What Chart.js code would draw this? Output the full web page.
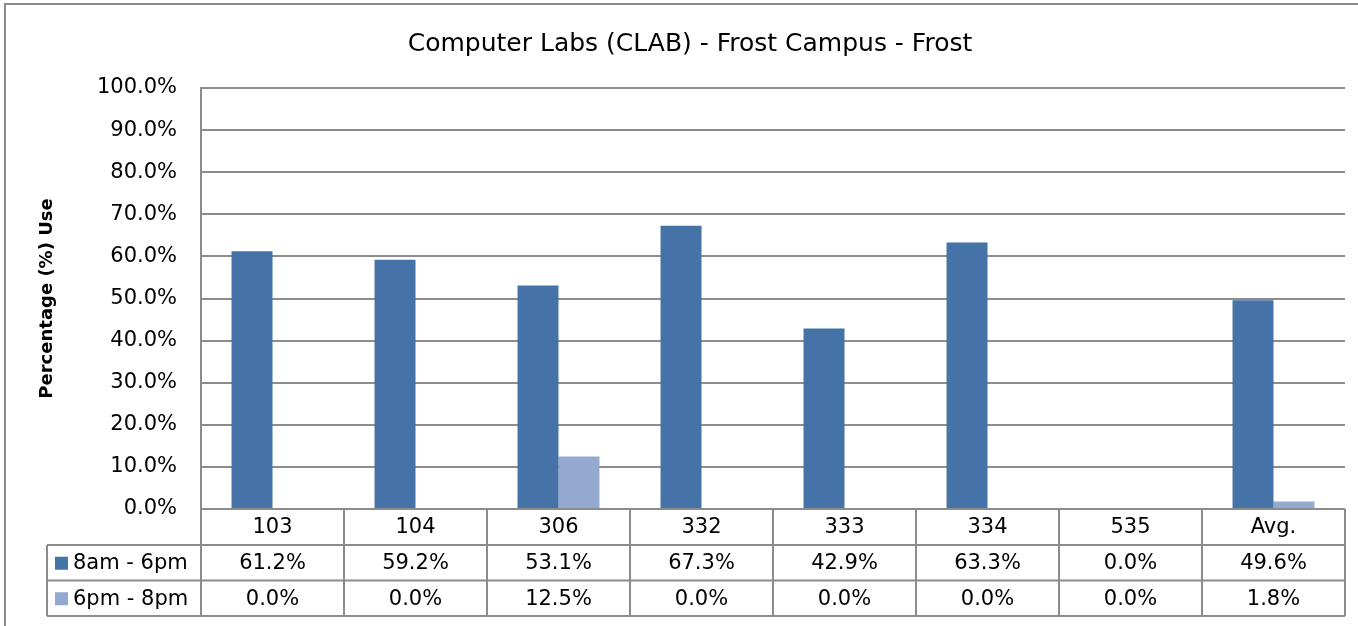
<!DOCTYPE html>
<html lang="en">
<head>
  <meta charset="UTF-8">
  <title>Computer Labs (CLAB) - Frost Campus - Frost</title>
  <script src="https://cdn.jsdelivr.net/npm/chart.js"></script>
  <style>
    body { margin: 0; padding: 0; background: #fff; }
    canvas { display: block; }
  </style>
</head>
<body>
  <canvas id="labChart" width="1358" height="626"></canvas>

  <script>
    // data
    const rooms = ['103', '104', '306', '332', '333', '334', '535', 'Avg.'];
    const dayUse = [61.2, 59.2, 53.1, 67.3, 42.9, 63.3, 0.0, 49.6];
    const eveningUse = [0.0, 0.0, 12.5, 0.0, 0.0, 0.0, 0.0, 1.8];
    const seriesNames = ['8am - 6pm', '6pm - 8pm'];
    const yTicks = [0, 10, 20, 30, 40, 50, 60, 70, 80, 90, 100];

    const FONT = '"DejaVu Sans", sans-serif';
    const GRID = '#8c8c8c';

    // outer frame (right/bottom edges fall off the picture)
    const framePlugin = {
      id: 'frame',
      beforeDraw(chart) {
        const ctx = chart.ctx;
        ctx.save();
        ctx.strokeStyle = '#8c8c8c';
        ctx.lineWidth = 2;
        ctx.strokeRect(5, 4, chart.width + 40, chart.height + 40);
        ctx.restore();
      }
    };

    // Excel-like data table under the plot
    const tablePlugin = {
      id: 'dataTable',
      afterDraw(chart) {
        const ctx = chart.ctx;
        const x = chart.scales.x;
        const area = chart.chartArea;
        const colW = x.width / rooms.length;
        const headTop = area.bottom;
        const row1 = headTop + 36;
        const row2 = row1 + 35.5;
        const bottom = row2 + 35.5;
        const legendLeft = 47;

        ctx.save();
        ctx.strokeStyle = GRID;
        ctx.lineWidth = 2;

        // horizontal rules
        [row1, row2, bottom].forEach(y => {
          ctx.beginPath();
          ctx.moveTo(legendLeft, y);
          ctx.lineTo(area.right, y);
          ctx.stroke();
        });

        // vertical rules
        for (let i = 0; i <= rooms.length; i++) {
          const vx = area.left + i * colW;
          ctx.beginPath();
          ctx.moveTo(vx, headTop);
          ctx.lineTo(vx, bottom);
          ctx.stroke();
        }
        ctx.beginPath();
        ctx.moveTo(legendLeft, row1);
        ctx.lineTo(legendLeft, bottom);
        ctx.stroke();

        ctx.fillStyle = '#000';
        ctx.font = '21px ' + FONT;
        ctx.textAlign = 'center';
        ctx.textBaseline = 'middle';

        rooms.forEach((r, i) => {
          const cx = x.getPixelForValue(i);
          ctx.fillText(r, cx, (headTop + row1) / 2 + 1);
        });

        const rows = [row1, row2];
        chart.data.datasets.forEach((ds, d) => {
          const midY = (rows[d] + rows[d] + 35.5) / 2 + 1;
          ds.data.forEach((v, i) => {
            ctx.textAlign = 'center';
            ctx.fillStyle = '#000';
            ctx.fillText(v.toFixed(1) + '%', x.getPixelForValue(i), midY);
          });
          // legend key + name
          ctx.fillStyle = ds.backgroundColor;
          ctx.fillRect(55, midY - 7, 13, 13);
          ctx.fillStyle = '#000';
          ctx.textAlign = 'left';
          ctx.fillText(ds.label, 73, midY);
        });

        ctx.restore();
      }
    };

    new Chart(document.getElementById('labChart'), {
      type: 'bar',
      data: {
        labels: rooms,
        datasets: [
          { label: seriesNames[0], data: dayUse, backgroundColor: '#4572A7' },
          { label: seriesNames[1], data: eveningUse, backgroundColor: '#93A9CF' }
        ]
      },
      options: {
        responsive: false,
        devicePixelRatio: 1,
        animation: false,
        categoryPercentage: 0.573,
        barPercentage: 1,
        layout: { padding: { left: 35, right: 13, top: 0, bottom: 117 } },
        plugins: {
          legend: { display: false },
          tooltip: { enabled: false },
          title: {
            display: true,
            text: 'Computer Labs (CLAB) - Frost Campus - Frost',
            color: '#000',
            font: { family: FONT, size: 25, weight: 'normal', lineHeight: 1.2 },
            padding: { top: 29, bottom: 29 }
          }
        },
        scales: {
          x: { display: false },
          y: {
            min: 0,
            max: 100,
            afterFit(scale) { scale.width = 166; },
            afterBuildTicks(scale) { scale.ticks = yTicks.map(v => ({ value: v })); },
            ticks: {
              color: '#000',
              padding: 24,
              font: { family: FONT, size: 21 },
              callback: v => v.toFixed(1) + '%'
            },
            grid: { color: GRID, lineWidth: 2, drawTicks: false },
            border: { color: GRID, width: 2 },
            title: {
              display: true,
              text: 'Percentage (%) Use',
              color: '#000',
              font: { family: FONT, size: 18, weight: 'bold', lineHeight: 1.2 },
              padding: { top: 2, bottom: 0 }
            }
          }
        }
      },
      plugins: [framePlugin, tablePlugin]
    });
  </script>
</body>
</html>
